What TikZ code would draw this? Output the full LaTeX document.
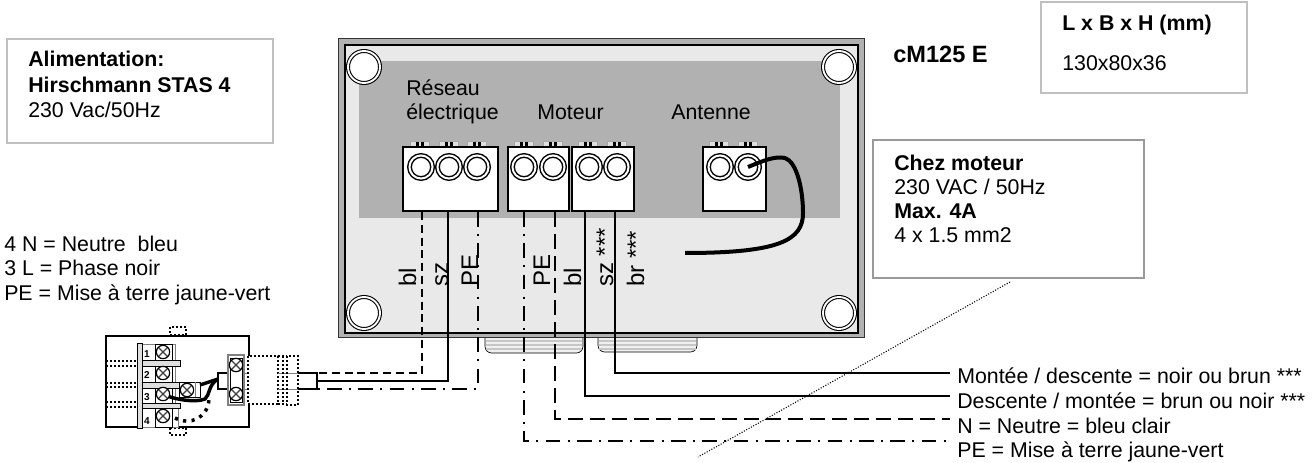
\documentclass[tikz,border=0pt]{standalone}
\usepackage{fontspec}
\setmainfont{Liberation Sans}
\definecolor{caselight}{HTML}{E9E9E9}
\definecolor{casedark}{HTML}{B1B1B1}
\tikzset{
  txt/.style={anchor=base west, inner sep=0pt, font=\fontsize{16}{18}\selectfont},
  txtb/.style={txt, font=\fontsize{16}{18}\selectfont\bfseries},
  big/.style={anchor=base west, inner sep=0pt, rotate=90, font=\fontsize{18}{20}\selectfont},
  graybox/.style={draw=gray!50, line width=1.2pt, fill=white},
  block/.style={draw=black, line width=1.2pt, fill=white},
  ring/.style={circle, draw=black, fill=white, line width=1.1pt, double=white, double distance=1.5pt, minimum size=17.3pt, inner sep=0pt, outer sep=0pt},
  hole/.style={circle, draw=black, fill=white, line width=.8pt, double=white, double distance=1.4pt, minimum size=24pt, inner sep=0pt, outer sep=0pt},
  pintab/.style={rectangle, draw=gray!70, fill=gray!25, line width=.4pt, minimum width=14pt, minimum height=4.5pt, inner sep=0pt, outer sep=0pt,
    path picture={\fill[black] ([xshift=-3pt]path picture bounding box.south) rectangle ([xshift=3pt]path picture bounding box.north);
      \fill[gray!25] ([xshift=-.5pt]path picture bounding box.south) rectangle ([xshift=.5pt]path picture bounding box.north);}},
  screw/.style={circle, draw=black, fill=white, line width=.9pt, minimum size=10pt, inner sep=0pt, outer sep=0pt,
    path picture={\draw[black!75, line width=1pt] (path picture bounding box.north west) -- (path picture bounding box.south east);
      \draw[black!75, line width=1pt] (path picture bounding box.north east) -- (path picture bounding box.south west);}},
  digit/.style={inner sep=0pt, font=\fontsize{7.5}{8}\selectfont\bfseries},
  wirefull/.style={draw=black, line width=1.3pt},
  wiredash/.style={draw=black, line width=1.3pt, dash pattern=on 6pt off 3.6pt},
  wirelong/.style={draw=black, line width=1.3pt, dash pattern=on 11pt off 5.5pt},
  wiredot/.style={draw=black, line width=1.3pt, dash pattern=on 11pt off 5.5pt on 1.5pt off 5.5pt},
  leader/.style={draw=black, line width=.8pt, dash pattern=on .8pt off 1.2pt},
  devdot/.style={draw=black, line width=1pt, dash pattern=on 1.5pt off 1.5pt},
  antwire/.style={draw=black, line width=3pt},
}
\begin{document}
\begin{tikzpicture}[x=.75pt,y=-.75pt]
\useasboundingbox (0,0) rectangle (1312,463);
% info boxes
\draw [graybox] (7,39) rectangle (273,143);
\draw [graybox] (1041,2) rectangle (1247,93);
\draw [graybox, draw=gray!80] (873,140) rectangle (1144,278);
\node [txtb] (aliA) at (28,67) {Alimentation:};
\node [txtb] (aliB) at (28,93) {Hirschmann STAS 4};
\node [txt] (aliC) at (28,118) {230 Vac/50Hz};
\node [txtb] (dimA) at (1062,31) {L x B x H (mm)};
\node [txt] (dimB) at (1062,71) {130x80x36};
\node [txtb, font=\fontsize{17.7}{18}\selectfont\bfseries] (model) at (893,63) {cM125 E};
\node [txtb] (motA) at (894,171) {Chez moteur};
\node [txt] (motB) at (894,195) {230 VAC / 50Hz};
\node [txtb] (motC) at (894,219) {Max. 4A};
\node [txt] (motD) at (894,243) {4 x 1.5 mm2};
\node [txt] (lefA) at (4,251) {4 N = Neutre\ \ bleu};
\node [txt] (lefB) at (4,275) {3 L = Phase noir};
\node [txt] (lefC) at (4,300) {PE = Mise à terre jaune-vert};
% cable glands under the case
\draw [draw=black, line width=.5pt, fill=gray!12, rounded corners=5pt] (485,330) -- (485,353) -- (583,353) -- (583,330);
\draw [draw=black, line width=.5pt, fill=gray!12, rounded corners=5pt] (598,330) -- (598,352) -- (697,352) -- (697,330);
\draw [gray!45, line width=1pt] (486,341) -- (582,341);
\draw [gray!45, line width=1pt] (486,345) -- (582,345);
\draw [gray!45, line width=1pt] (486,349) -- (582,349);
\draw [gray!45, line width=1pt] (599,341) -- (696,341);
\draw [gray!45, line width=1pt] (599,345) -- (696,345);
\draw [gray!45, line width=1pt] (599,349) -- (696,349);
% case
\draw [draw=black!80, line width=.7pt, fill=casedark] (338,38) rectangle (864,337);
\draw [draw=black, line width=1.2pt, fill=caselight] (345,45) rectangle (858,333);
\fill [casedark] (359,61) rectangle (840,218);
\node [hole] (holeA) at (364,67) {};
\node [hole] (holeB) at (839,67) {};
\node [hole] (holeC) at (364,313) {};
\node [hole] (holeD) at (839,313) {};
% labels in the case
\node [txt] (netA) at (406,96) {Réseau};
\node [txt] (netB) at (406,120) {électrique};
\node [txt] (mot) at (537,120) {Moteur};
\node [txt] (ant) at (671,120) {Antenne};
% terminal blocks
\node [pintab] (tabA) at (420,144) {};
\node [pintab] (tabB) at (449,144) {};
\node [pintab] (tabC) at (477,144) {};
\node [pintab] (tabD) at (524,144) {};
\node [pintab] (tabE) at (553,144) {};
\node [pintab] (tabF) at (588,144) {};
\node [pintab] (tabG) at (617,144) {};
\node [pintab] (tabH) at (719,144) {};
\node [pintab] (tabI) at (748,144) {};
\draw [block] (403,147) rectangle (498,211);
\draw [block] (508,147) rectangle (569,211);
\draw [block] (572,147) rectangle (634,211);
\draw [block] (703,147) rectangle (766,211);
\node [ring] (ringA) at (421,167) {};
\node [ring] (ringB) at (449,167) {};
\node [ring] (ringC) at (477,167) {};
\node [ring] (ringD) at (524,167) {};
\node [ring] (ringE) at (553,167) {};
\node [ring] (ringF) at (589,167) {};
\node [ring] (ringG) at (617,167) {};
\node [ring] (ringH) at (720,167) {};
\node [ring] (ringI) at (748,167) {};
% antenna wire
\draw [antwire] (ringI.center) .. controls (765,160) and (775,156) .. (785,158) .. controls (797,162) and (803,190) .. (803,213) .. controls (803,240) and (780,253) .. (685,253);
% wires
\coordinate (netN) at (422,212);
\coordinate (netL) at (448,212);
\coordinate (netE) at (478,212);
\coordinate (motE) at (524,212);
\coordinate (motN) at (555,212);
\coordinate (motU) at (585,212);
\coordinate (motD) at (615,212);
\coordinate (cabN) at (317,373);
\coordinate (cabL) at (317,381);
\coordinate (cabE) at (317,389);
\coordinate (endU) at (950,373);
\coordinate (endD) at (950,396);
\coordinate (endN) at (950,419);
\coordinate (endE) at (950,441);
\draw [wiredash] (netN) |- (cabN);
\draw [wirefull] (netL) |- (cabL);
\draw [wiredot] (netE) |- (cabE);
\draw [wiredot] (motE) |- (endE);
\draw [wirelong] (motN) |- (endN);
\draw [wirefull] (motU) |- (endD);
\draw [wirefull] (motD) |- (endU);
% wire labels
\node [big] (lblA) at (416,287) {bl};
\node [big] (lblB) at (448,287) {sz};
\node [big] (lblC) at (478,287) {PE};
\node [big] (lblD) at (550,287) {PE};
\node [big] (lblE) at (581,287) {bl};
\node [big] (lblF) at (613,287) {sz ***};
\node [big] (lblG) at (644,287) {br ***};
\node [txt] (sigA) at (957,383) {Montée / descente = noir ou brun ***};
\node [txt] (sigB) at (957,408) {Descente / montée = brun ou noir ***};
\node [txt] (sigC) at (957,433) {N = Neutre = bleu clair};
\node [txt] (sigD) at (957,457) {PE = Mise à terre jaune-vert};
% leader line
\coordinate (leadA) at (1010,282);
\coordinate (leadB) at (698,457);
\draw [leader] (leadA) -- (leadB);
% plug
\draw [devdot] (170,327) rectangle (186,335);
\draw [devdot] (170,428) rectangle (186,435);
\draw [block, line width=1pt] (106,336) rectangle (249,427);
\draw [devdot] (106,361) -- (136,361);
\draw [devdot] (106,366) -- (136,366);
\draw [devdot] (106,383) -- (136,383);
\draw [devdot] (106,387) -- (136,387);
\draw [devdot] (106,402) -- (136,402);
\draw [devdot] (106,407) -- (136,407);
\draw [draw=gray, line width=.5pt, fill=white] (142,344) rectangle (175,360);
\draw [draw=gray, line width=.5pt, fill=white] (142,366) rectangle (175,382);
\draw [draw=gray, line width=.5pt, fill=white] (142,388) rectangle (175,403);
\draw [draw=gray, line width=.5pt, fill=white] (142,408) rectangle (178,427);
\draw [draw=black, line width=.6pt, fill=gray!25] (142,360) rectangle (180,366);
\draw [draw=black, line width=.6pt, fill=gray!25] (142,382) rectangle (180,388);
\draw [draw=black, line width=.6pt, fill=gray!25] (142,403) rectangle (180,408);
\draw [draw=black, line width=.6pt, fill=gray!25] (137,343) rectangle (142,428);
\draw [draw=black, line width=.5pt] (155,344) rectangle (172,360);
\draw [draw=black, line width=.5pt] (155,366) rectangle (172,382);
\draw [draw=black, line width=.5pt] (155,388) rectangle (172,403);
\draw [draw=black, line width=.5pt] (155,408) rectangle (172,427);
\node [screw] (scrA) at (163,352) {};
\node [screw] (scrB) at (163,373) {};
\node [screw] (scrC) at (163,394) {};
\node [screw] (scrD) at (163,416) {};
\node [digit] (digA) at (147,354) {1};
\node [digit] (digB) at (147,375) {2};
\node [digit] (digC) at (147,397) {3};
\node [digit] (digD) at (147,421) {4};
\draw [draw=black, line width=.5pt, fill=white] (179,382) rectangle (200,397);
\draw [draw=gray, line width=.5pt] (195,382) -- (195,397);
\node [screw] (scrE) at (187,390) {};
% plug wires
\coordinate (jointA) at (218,379);
\draw [draw=black, line width=2.6pt] (200,385) -- (jointA);
\draw [draw=black, line width=2.6pt] (scrC) .. controls (175,399) and (195,403) .. (205,399) .. controls (210,395) and (208,385) .. (jointA);
\draw [draw=black, line width=2.6pt, dash pattern=on 2.4pt off 4pt] (175,418) .. controls (190,426) and (208,418) .. (209,399);
\draw [draw=black, line width=1.1pt] (228,373) -- (218,373) -- (218,389) -- (228,389);
\draw [draw=gray, line width=.8pt, fill=white] (228,355) rectangle (244,405);
\draw [draw=black, line width=.5pt] (230,358) rectangle (242,402);
\node [screw] (scrF) at (236,365) {};
\node [screw] (scrG) at (236,394) {};
\draw [draw=gray, line width=.6pt] (244,373) -- (248,373);
\draw [draw=gray, line width=.6pt] (244,389) -- (248,389);
\draw [devdot, fill=white] (248,356) rectangle (278,404);
\draw [draw=gray, line width=.7pt] (278,373) -- (298,373);
\draw [draw=gray, line width=.7pt] (278,389) -- (298,389);
\draw [devdot] (278,356) -- (287,356);
\draw [devdot] (278,404) -- (287,404);
\draw [devdot] (283,356) -- (283,404);
\draw [devdot] (287,356) rectangle (298,405);
\draw [draw=black, line width=1.3pt] (298,373) -- (cabN) -- (cabE) -- (298,389);
\end{tikzpicture}
\end{document}
